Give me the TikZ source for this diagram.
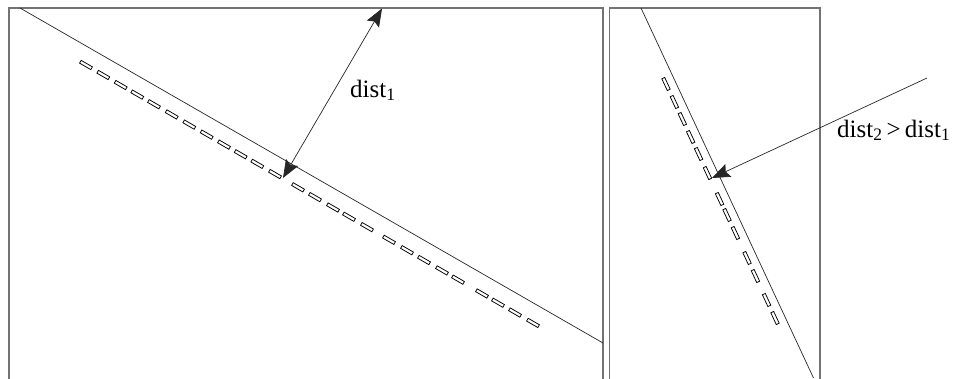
\documentclass[tikz,border=0pt]{standalone}
\usepackage{fontspec}
\setmainfont{Liberation Serif}
\usetikzlibrary{arrows.meta}
\begin{document}
\begin{tikzpicture}[x=1pt,y=-1pt,
  frame/.style={draw=black!55,line width=1.4pt},
  edge/.style={draw=black!85,line width=0.7pt},
  dashbox/.style={draw=black,line width=0.75pt,rectangle,minimum width=13pt,minimum height=3.2pt,inner sep=0pt,fill=white},
  arr/.style={draw=black!85,line width=0.7pt},
  tip/.tip={Stealth[length=18pt,width=14pt,inset=3pt]},
  lbl/.style={font=\fontsize{25}{29}\selectfont,inner sep=0pt,anchor=base west}
]
\useasboundingbox (0,0) rectangle (955,378);
% frames
\draw[frame] (9,382) -- (9,8) -- (603,8) -- (603,382);
\draw[frame] (609.5,382) -- (609.5,8) -- (820,8) -- (820,382);
% left panel
\coordinate (L1) at (20,8);
\coordinate (L2) at (603,343);
\draw[edge] (L1) -- (L2);
\foreach \x [count=\i] in {86,103.3,120.7,137.3,154,171.7,189.3,206.7,224,240.7,257.3,275,298,315,333,349,367,389,407,424,442,458,482,498,515,533}
  \node[dashbox,rotate=-30] (dl\i) at (\x,{65+0.577*(\x-86)}) {};
\coordinate (A1) at (283,178);
\coordinate (A2) at (382,8.5);
\draw[arr,tip-tip] (A1) -- (A2);
\node[lbl] (d1) at (350,97) {dist\textsubscript{1}};
% right panel
\coordinate (R1) at (641,8);
\coordinate (R2) at (813.5,378);
\draw[edge] (R1) -- (R2);
\foreach \y [count=\i] in {84,102,119,137,154,173,199,215,233,258,276,300,318}
  \node[dashbox,rotate=-65] (dr\i) at ({666+(\y-84)/2.147},\y) {};
\coordinate (B1) at (927,78);
\coordinate (B2) at (712,178);
\draw[arr,-tip] (B1) -- (B2);
\node[lbl] (d2) at (837,137) {dist\textsubscript{2}\,>\,dist\textsubscript{1}};
\end{tikzpicture}
\end{document}
